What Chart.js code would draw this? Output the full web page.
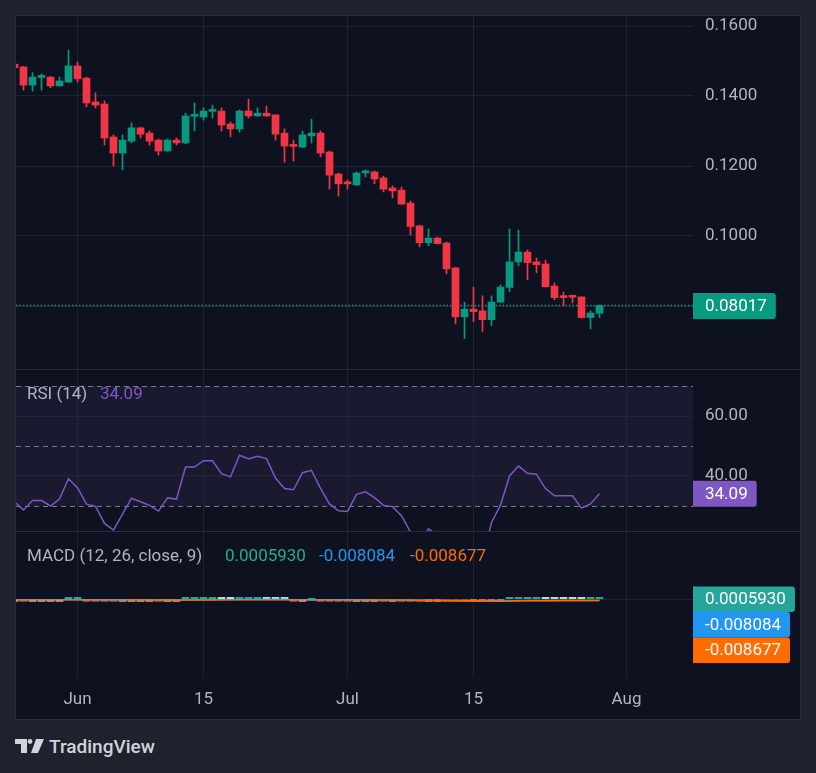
<!DOCTYPE html>
<html>
<head>
<meta charset="utf-8">
<script src="https://cdn.jsdelivr.net/npm/chart.js@4.4.0/dist/chart.umd.min.js"></script>
<style>
  html, body { margin: 0; padding: 0; width: 816px; height: 773px; overflow: hidden; background: #1e222d; font-family: Roboto, sans-serif; }
  #panel { position: absolute; left: 15px; top: 15px; width: 784px; height: 703px; border: 1px solid #2a2e39; background: #0e1220; }
  #panel canvas { position: absolute; left: 0; }
  .sep { position: absolute; left: 0; width: 784px; height: 1px; background: #2a2e39; }
  .leg { position: absolute; font-size: 17px; line-height: 17px; white-space: nowrap; color: #b2b5be; }
  #brand { position: absolute; left: 15px; top: 737px; height: 20px; }
  #brand span { position: absolute; left: 34px; top: 0; font-size: 19px; line-height: 19px; font-weight: 500; color: #d1d4dc; }
</style>
</head>
<body>
<div id="panel">
  <canvas id="price" width="784" height="353" style="top:0;width:784px;height:353px"></canvas>
  <div class="sep" style="top:353px"></div>
  <canvas id="rsi" width="784" height="161" style="top:354px;width:784px;height:161px"></canvas>
  <div class="sep" style="top:515px"></div>
  <canvas id="macd" width="784" height="187" style="top:516px;width:784px;height:187px"></canvas>
  <div class="leg" style="left:11px;top:369px">RSI (14)</div>
  <div class="leg" id="rsiVal" style="left:84px;top:369px;color:#7e57c2"></div>
  <div class="leg" style="left:11px;top:531px">MACD (12, 26, close, 9)</div>
  <div class="leg" id="histVal" style="left:209px;top:531px;color:#22ab94"></div>
  <div class="leg" id="macdVal" style="left:303px;top:531px;color:#2196f3"></div>
  <div class="leg" id="sigVal" style="left:394px;top:531px;color:#ff6d00"></div>
</div>
<div id="brand">
  <svg width="30" height="15" viewBox="0 0 30 15" style="position:absolute;left:0;top:2px">
    <path d="M0 0H12V14H6V5H0Z" fill="#d1d4dc"/>
    <circle cx="15" cy="2.5" r="2.4" fill="#d1d4dc"/>
    <path d="M21 0H29L23 14H16Z" fill="#d1d4dc"/>
  </svg>
  <span>TradingView</span>
</div>
<script>
const dates = [
  'May 25','May 26','May 27','May 28','May 29','May 30','May 31',
  'Jun 1','Jun 2','Jun 3','Jun 4','Jun 5','Jun 6','Jun 7','Jun 8','Jun 9','Jun 10',
  'Jun 11','Jun 12','Jun 13','Jun 14','Jun 15','Jun 16','Jun 17','Jun 18','Jun 19','Jun 20',
  'Jun 21','Jun 22','Jun 23','Jun 24','Jun 25','Jun 26','Jun 27','Jun 28','Jun 29','Jun 30',
  'Jul 1','Jul 2','Jul 3','Jul 4','Jul 5','Jul 6','Jul 7','Jul 8','Jul 9','Jul 10',
  'Jul 11','Jul 12','Jul 13','Jul 14','Jul 15','Jul 16','Jul 17','Jul 18','Jul 19','Jul 20',
  'Jul 21','Jul 22','Jul 23','Jul 24','Jul 25','Jul 26','Jul 27','Jul 28','Jul 29'
];
const open = [
  .1491,.1483,.1431,.1453,.1454,.1429,.1440,
  .1486,.1451,.1383,.1377,.1283,.1237,.1271,.1309,.1294,.1274,
  .1243,.1274,.1266,.1342,.1340,.1356,.1357,.1320,.1306,.1357,
  .1343,.1351,.1346,.1294,.1258,.1254,.1286,.1294,.1240,.1177,
  .1151,.1146,.11805,.1183,.1166,.1137,.1131,.1094,.1029,.0981,
  .0994,.0980,.0909,.0769,.0791,.0786,.0761,.0811,.0853,.0926,
  .0954,.0926,.0920,.0857,.0826,.0827,.0826,.0767,.0779
];
const high = [
  .1494,.1485,.1467,.1463,.1456,.1454,.1531,
  .1497,.1454,.1409,.1386,.1289,.1289,.1323,.1311,.1300,.1277,
  .1277,.1280,.1351,.1380,.1366,.1374,.1366,.1326,.1360,.1391,
  .1366,.1371,.1346,.1306,.1274,.1300,.1334,.1300,.1243,.1180,
  .1160,.1183,.1189,.1186,.1171,.1143,.1140,.1100,.1031,.1020,
  .0997,.0983,.0911,.0811,.0854,.0829,.0829,.0860,.1020,.1017,
  .0960,.0937,.0931,.0866,.0840,.0831,.0826,.0786,.0803
];
const low = [
  .1478,.1417,.1414,.1417,.1424,.1428,.1438,
  .1440,.1369,.1366,.1260,.1200,.1189,.1266,.1280,.1260,.1231,
  .1242,.1260,.1264,.1300,.1331,.1337,.1300,.1283,.1297,.1337,
  .1342,.1342,.1274,.1211,.1214,.1253,.1266,.1226,.1134,.1114,
  .1134,.1145,.1169,.1149,.1126,.1109,.1090,.1003,.0969,.0972,
  .0977,.0892,.0749,.0707,.0755,.0727,.0744,.0810,.0841,.0915,
  .0875,.0895,.0854,.0818,.0801,.0809,.0766,.0735,.0767
];
const close = [
  .1481,.1431,.1454,.1454,.1429,.1443,.1486,
  .1449,.1380,.1374,.1280,.1237,.1274,.1309,.1291,.1271,.1243,
  .1274,.1266,.1343,.1344,.1357,.1357,.1317,.1306,.1357,.1343,
  .1351,.1343,.1291,.1257,.1256,.1289,.1294,.1237,.1174,.1149,
  .1149,.1180,.1182,.1163,.1134,.1129,.1091,.1027,.0981,.0994,
  .0978,.0906,.0769,.0791,.0784,.0761,.0811,.0854,.0926,.0954,
  .0924,.0918,.0855,.0824,.0824,.0825,.0767,.0780,.08017
];
const rsi = [
  31.4,28.7,31.8,31.8,30.0,32.3,39.1,
  36.1,30.6,29.9,24.2,22.0,27.3,32.6,31.4,30.2,28.3,
  32.7,32.3,43.0,43.0,45.1,45.1,40.8,39.7,46.9,45.7,
  46.6,45.8,39.3,35.8,35.4,41.1,41.9,35.9,30.7,28.4,
  28.2,33.9,34.7,32.8,30.2,29.8,26.8,21.3,18.0,22.4,
  20.3,16.5,11.0,14.5,14.0,12.5,24.5,30.3,40.0,43.3,
  40.9,40.6,35.8,33.4,33.4,33.4,29.3,30.7,34.09
];
const macd = [
  -0.0030,-0.0033,-0.0033,-0.0032,-0.0033,-0.0032,-0.0027,
  -0.0026,-0.0030,-0.0034,-0.0044,-0.0054,-0.0058,-0.0057,-0.0057,-0.0058,-0.0061,
  -0.0060,-0.0059,-0.0051,-0.0044,-0.0037,-0.0031,-0.0029,-0.0028,-0.0023,-0.0020,
  -0.0017,-0.0015,-0.0018,-0.0023,-0.0027,-0.0027,-0.0026,-0.0031,-0.0039,-0.0047,
  -0.0053,-0.0054,-0.0055,-0.0056,-0.0059,-0.0062,-0.0067,-0.0075,-0.0085,-0.0091,
  -0.0096,-0.0105,-0.0122,-0.0131,-0.0137,-0.0143,-0.0140,-0.0132,-0.0118,-0.0103,
  -0.0094,-0.0087,-0.0086,-0.0087,-0.0087,-0.0086,-0.0090,-0.0087,-0.008084
];
const signal = [
  -0.0028,-0.0029,-0.0030,-0.0030,-0.0031,-0.0031,-0.0030,
  -0.0029,-0.0029,-0.0030,-0.0033,-0.0037,-0.0041,-0.0044,-0.0047,-0.0049,-0.0051,
  -0.0053,-0.0054,-0.0054,-0.0052,-0.0049,-0.0045,-0.0042,-0.0039,-0.0036,-0.0033,
  -0.0030,-0.0027,-0.0025,-0.0025,-0.0025,-0.0026,-0.0026,-0.0027,-0.0029,-0.0033,
  -0.0037,-0.0040,-0.0043,-0.0046,-0.0048,-0.0051,-0.0054,-0.0058,-0.0063,-0.0069,
  -0.0074,-0.0080,-0.0089,-0.0097,-0.0105,-0.0113,-0.0118,-0.0121,-0.0120,-0.0117,
  -0.0112,-0.0107,-0.0103,-0.0100,-0.0097,-0.0095,-0.0094,-0.0092,-0.008677
];
const hist = [
  -0.0002,-0.0004,-0.0003,-0.0002,-0.0002,-0.0001,0.0003,
  0.0003,-0.0001,-0.0004,-0.0011,-0.0017,-0.0017,-0.0013,-0.0010,-0.0009,-0.0010,
  -0.0007,-0.0005,0.0003,0.0008,0.0012,0.0014,0.0013,0.0011,0.0013,0.0013,
  0.0013,0.0012,0.0007,0.0002,-0.0002,-0.0001,0.0000,-0.0004,-0.0010,-0.0014,
  -0.0016,-0.0014,-0.0012,-0.0010,-0.0011,-0.0011,-0.0013,-0.0017,-0.0022,-0.0022,
  -0.0022,-0.0025,-0.0033,-0.0034,-0.0032,-0.0030,-0.0022,-0.0011,0.0002,0.0014,
  0.0018,0.0020,0.0017,0.0013,0.0010,0.0009,0.0004,0.0005,0.000593
];
const tickDays = [0, 14, 30, 44, 61];          // days after Jun 1
const tickLabels = ['Jun', '15', 'Jul', '15', 'Aug'];
const priceTicks = [0.08, 0.10, 0.12, 0.14, 0.16];
const rsiTicks = [40, 60];
const rsiBands = [70, 50, 30];

const UP = '#089981', DOWN = '#f23645';
const gridColor = 'rgba(42,46,57,0.6)';
const firstDay = -7;   // May 25 relative to Jun 1
const last = dates.length - 1;

Chart.defaults.font.family = 'Roboto, sans-serif';
Chart.defaults.font.size = 17;
Chart.defaults.color = '#b2b5be';
Chart.defaults.animation = false;
Chart.defaults.plugins.legend.display = false;
Chart.defaults.plugins.tooltip.enabled = false;

const xMin = -61.5 / 9;
const xMax = xMin + 677 / 9;

function xAxis(labels) {
  return {
    type: 'linear', min: xMin, max: xMax, offset: false,
    afterBuildTicks: s => { s.ticks = tickDays.map(v => ({ value: v })); },
    ticks: { display: labels, padding: 12, autoSkip: false, maxRotation: 0, callback: (v, i) => tickLabels[i] },
    grid: { color: gridColor, drawTicks: false, offset: false },
    border: { display: false },
    afterFit: s => { s.height = labels ? 41 : 0; s.paddingLeft = 0; s.paddingRight = 0; }
  };
}
function yAxis(min, max, ticks, fmt) {
  return {
    position: 'right', min, max,
    afterBuildTicks: s => { s.ticks = ticks.map(v => ({ value: v })); },
    ticks: { padding: 12, callback: fmt },
    grid: { color: gridColor, drawTicks: false },
    border: { display: false },
    afterFit: s => { s.width = 107; s.paddingTop = 0; s.paddingBottom = 0; }
  };
}
const common = { responsive: false, maintainAspectRatio: false, events: [], layout: { padding: 0 } };

function drawTag(ctx, x, cy, text, bg, h) {
  ctx.save();
  ctx.font = '17px Roboto, sans-serif';
  const w = ctx.measureText(text).width + 21;
  ctx.fillStyle = bg;
  ctx.beginPath();
  ctx.roundRect(x, cy - h / 2, w, h, [0, 3, 3, 0]);
  ctx.fill();
  ctx.fillStyle = '#ffffff';
  ctx.textBaseline = 'middle';
  ctx.fillText(text, x + 12, cy + 1);
  ctx.restore();
}

const candleColor = c => close[c.dataIndex] >= open[c.dataIndex] ? UP : DOWN;

new Chart(document.getElementById('price'), {
  type: 'bar',
  data: {
    datasets: [
      { data: dates.map((_, i) => ({ x: i + firstDay, y: [low[i], high[i]] })), backgroundColor: candleColor, barThickness: 1, grouped: false, minBarLength: 1 },
      { data: dates.map((_, i) => ({ x: i + firstDay, y: [open[i], close[i]] })), backgroundColor: candleColor, barThickness: 7, grouped: false, minBarLength: 2 }
    ]
  },
  options: {
    ...common,
    scales: {
      x: xAxis(false),
      y: yAxis(0.062, 0.16 + 10 / 3500, priceTicks, v => v.toFixed(4))
    }
  },
  plugins: [{
    id: 'lastPrice',
    beforeDatasetsDraw(chart) {
      const { ctx, chartArea: a, scales: { y } } = chart;
      const py = Math.round(y.getPixelForValue(close[last])) + 0.5;
      ctx.save();
      ctx.strokeStyle = UP;
      ctx.lineWidth = 1.3;
      ctx.setLineDash([1.5, 2]);
      ctx.beginPath();
      ctx.moveTo(a.left, py);
      ctx.lineTo(a.right, py);
      ctx.stroke();
      ctx.restore();
    },
    afterDraw(chart) {
      const y = chart.scales.y;
      drawTag(chart.ctx, chart.chartArea.right, y.getPixelForValue(close[last]) + 0.5, close[last].toFixed(5), UP, 26);
    }
  }]
});

new Chart(document.getElementById('rsi'), {
  type: 'line',
  data: {
    datasets: [{
      data: dates.map((_, i) => ({ x: i + firstDay, y: rsi[i] })),
      borderColor: '#7e57c2', borderWidth: 1.5, pointRadius: 0, tension: 0
    }]
  },
  options: {
    ...common,
    scales: {
      x: xAxis(false),
      y: yAxis(70 - 144 / 3 - 1 / 3, 70 + 16 / 3, rsiTicks, v => v.toFixed(2))
    }
  },
  plugins: [{
    id: 'rsiBands',
    beforeDraw(chart) {
      const { ctx, chartArea: a, scales: { y } } = chart;
      const top = y.getPixelForValue(rsiBands[0]);
      const bottom = y.getPixelForValue(rsiBands[2]);
      ctx.save();
      ctx.fillStyle = 'rgba(126,87,194,0.1)';
      ctx.fillRect(a.left, top, a.right - a.left, bottom - top);
      ctx.restore();
    },
    beforeDatasetsDraw(chart) {
      const { ctx, chartArea: a, scales: { y } } = chart;
      ctx.save();
      ctx.strokeStyle = '#787b86';
      ctx.lineWidth = 1;
      ctx.setLineDash([5, 4]);
      rsiBands.forEach(v => {
        const py = Math.round(y.getPixelForValue(v)) + 0.5;
        ctx.beginPath();
        ctx.moveTo(a.left, py);
        ctx.lineTo(a.right, py);
        ctx.stroke();
      });
      ctx.restore();
    },
    afterDraw(chart) {
      drawTag(chart.ctx, chart.chartArea.right, chart.scales.y.getPixelForValue(rsi[last]), rsi[last].toFixed(2), '#7e57c2', 26);
    }
  }]
});

const histColor = i => {
  const v = hist[i], p = i > 0 ? hist[i - 1] : v;
  if (v >= 0) return v >= p ? '#26a69a' : '#b2dfdb';
  return v < p ? '#ff5252' : '#ffcdd2';
};

new Chart(document.getElementById('macd'), {
  type: 'bar',
  data: {
    datasets: [
      { type: 'bar', order: 3, data: dates.map((_, i) => ({ x: i + firstDay, y: hist[i] })), backgroundColor: c => histColor(c.dataIndex), barThickness: 7, minBarLength: 2 },
      { type: 'line', order: 2, data: dates.map((_, i) => ({ x: i + firstDay, y: macd[i] })), borderColor: '#2196f3', borderWidth: 1.5, pointRadius: 0 },
      { type: 'line', order: 1, data: dates.map((_, i) => ({ x: i + firstDay, y: signal[i] })), borderColor: '#ff6d00', borderWidth: 1.5, pointRadius: 0 }
    ]
  },
  options: {
    ...common,
    scales: {
      x: xAxis(true),
      y: yAxis(-0.5847, 0.5, [0], () => '')
    }
  },
  plugins: [{
    id: 'macdTags',
    afterDraw(chart) {
      const y = chart.scales.y;
      const tags = [
        { v: hist[last], t: hist[last].toFixed(7), c: histColor(last) },
        { v: macd[last], t: macd[last].toFixed(6), c: '#2196f3' },
        { v: signal[last], t: signal[last].toFixed(6), c: '#ff6d00' }
      ];
      let prev = -Infinity;
      tags.forEach(tag => {
        const cy = Math.max(y.getPixelForValue(tag.v), prev + 25.5);
        drawTag(chart.ctx, chart.chartArea.right, cy, tag.t, tag.c, 25.5);
        prev = cy;
      });
    }
  }]
});

document.getElementById('rsiVal').textContent = rsi[last].toFixed(2);
document.getElementById('histVal').textContent = hist[last].toFixed(7);
document.getElementById('macdVal').textContent = macd[last].toFixed(6);
document.getElementById('sigVal').textContent = signal[last].toFixed(6);
</script>
</body>
</html>
